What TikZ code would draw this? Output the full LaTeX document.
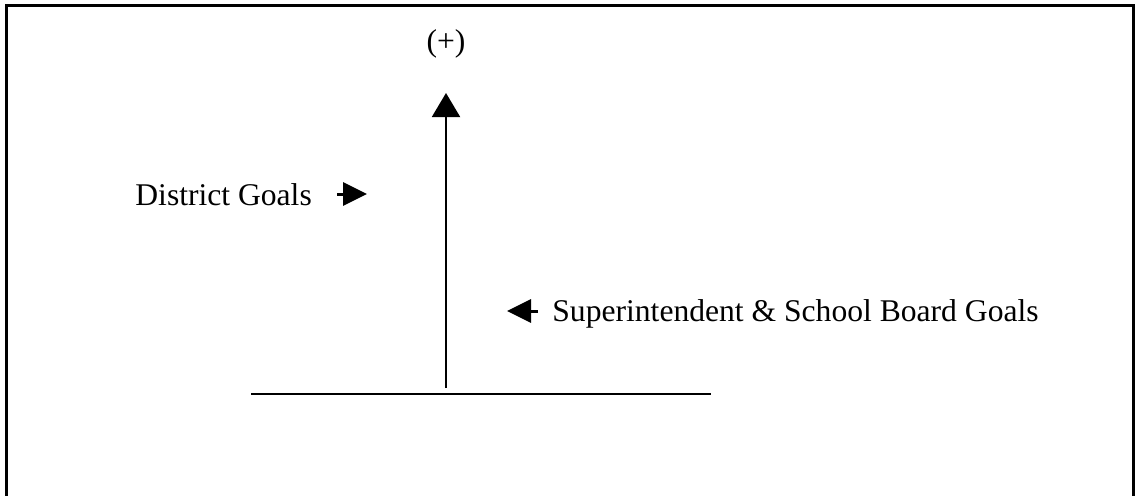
\documentclass[tikz,border=0pt]{standalone}
\usepackage{fontspec}
\setmainfont{Liberation Serif}
\usetikzlibrary{arrows.meta,positioning}
\begin{document}
\begin{tikzpicture}[x=0.5pt,y=-0.5pt,
 lbl/.style={inner sep=0pt,font=\fontsize{15.8}{19}\selectfont},
 axis/.style={line width=1pt},
 up/.style={axis,-{Triangle[length=12pt,width=14pt]}},
 ptr/.style={line width=1.5pt,-{Triangle[length=12pt,width=11.5pt]}}]
\useasboundingbox (0,0) rectangle (1135,495);
\draw[line width=1.5pt] (6,500) -- (6,5) -- (1133,5) -- (1133,500);
\node[lbl,anchor=base] (plus) at (446,51) {(+)};
\node[lbl,anchor=base west] (district) at (135,205) {District Goals};
\node[lbl,anchor=base west] (supt) at (552,321) {Superintendent \& School Board Goals};
\coordinate (left) at (251,394);
\coordinate (right) at (711,394);
\coordinate (foot) at (446,388);
\coordinate (top) at (446,93);
\coordinate (dtail) at (337,194);
\coordinate (dtip) at (367,194);
\coordinate (stail) at (538,311);
\coordinate (stip) at (507,311);
\draw[axis] (left) -- (right);
\draw[up] (foot) -- (top);
\draw[ptr] (dtail) -- (dtip);
\draw[ptr] (stail) -- (stip);
\end{tikzpicture}
\end{document}
